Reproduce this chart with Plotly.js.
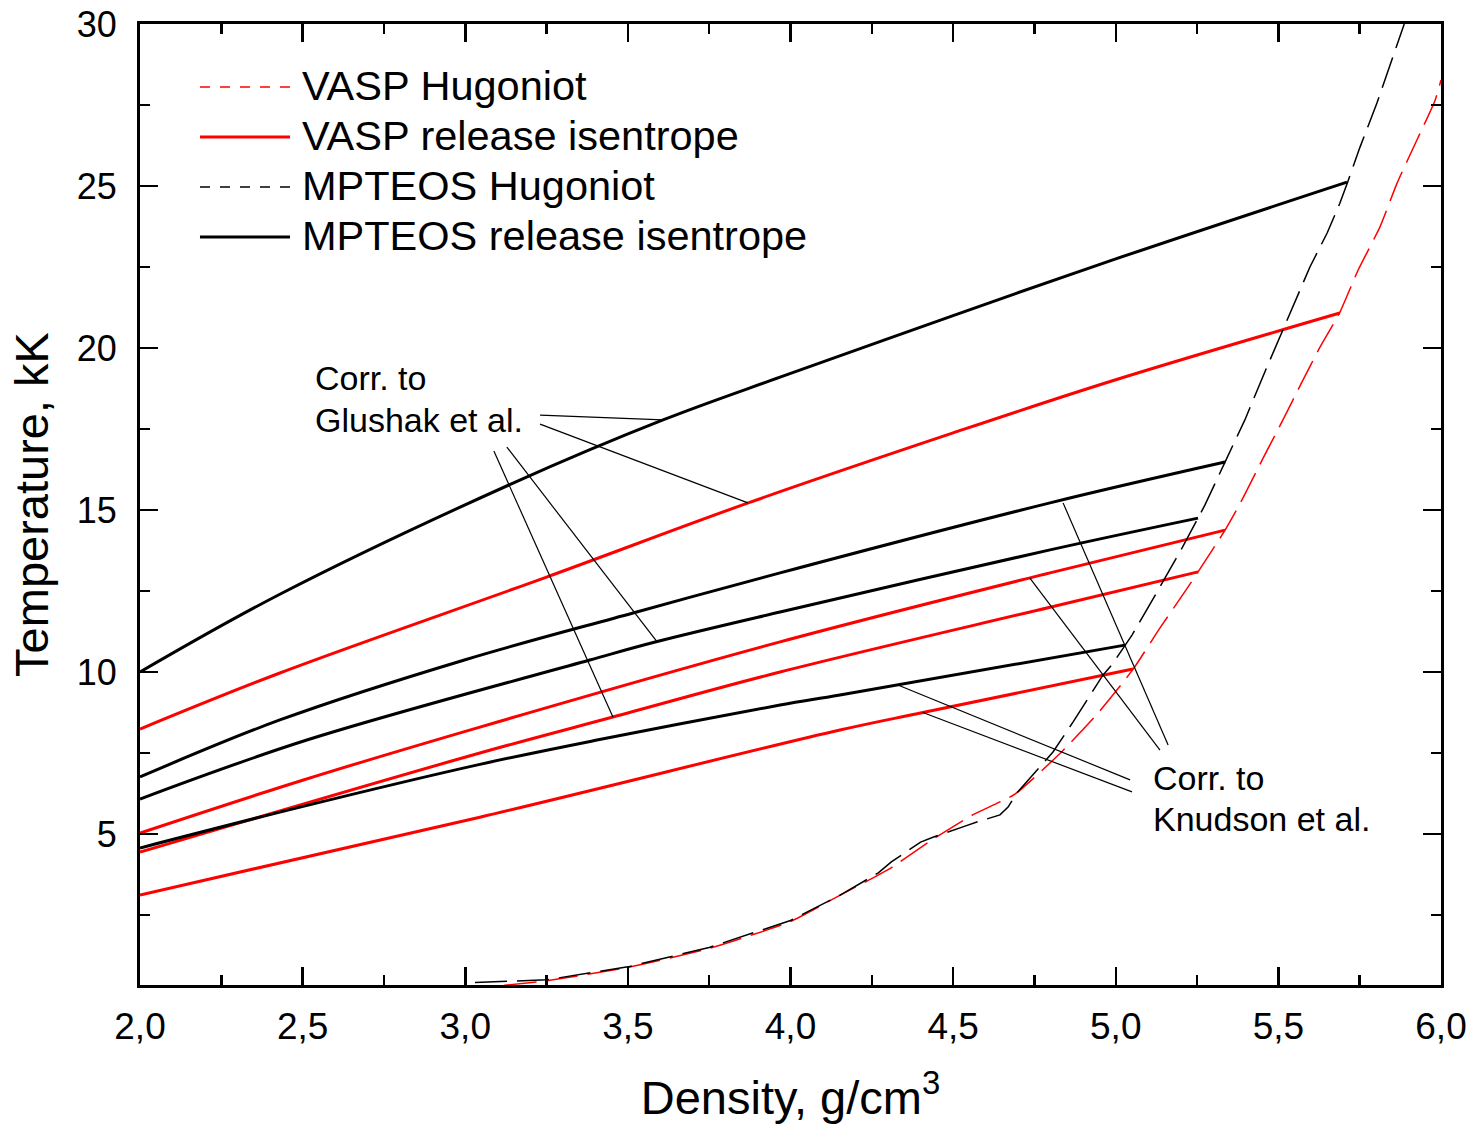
<!DOCTYPE html>
<html>
<head>
<meta charset="utf-8">
<script src="https://cdn.plot.ly/plotly-3.0.1.min.js"></script>
<style>html,body{margin:0;padding:0;background:#fff;}#chart{width:1481px;height:1124px;}</style>
</head>
<body>
<div id="chart"></div>
<script>
// ---- Data (density g/cm3, temperature kK) ----
const vaspHugX = [3.12, 3.25, 3.5, 3.75, 4.0, 4.15, 4.3, 4.44, 4.56, 4.69, 4.83, 4.94, 5.053, 5.136, 5.222, 5.253, 5.336, 5.388, 5.453, 5.514, 5.57, 5.628, 5.689, 5.745, 5.812, 5.865, 5.926, 5.982, 6.0];
const vaspHugY = [0.33, 0.47, 0.88, 1.47, 2.3, 3.1, 3.9, 4.85, 5.59, 6.23, 7.5, 8.67, 10.08, 11.36, 12.62, 13.09, 14.38, 15.31, 16.6, 17.78, 18.9, 20.03, 21.1, 22.4, 23.73, 25.09, 26.42, 27.65, 28.27];

const mpHugX = [3.03, 3.25, 3.5, 3.75, 4.0, 4.15, 4.27, 4.31, 4.40, 4.44, 4.53, 4.573, 4.644, 4.669, 4.696, 4.776, 4.807, 4.869, 4.896, 4.961, 4.988, 5.028, 5.05, 5.127, 5.204, 5.253, 5.274, 5.336, 5.397, 5.46, 5.527, 5.597, 5.65, 5.689, 5.714, 5.751, 5.803, 5.849, 5.887];
const mpHugY = [0.42, 0.5, 0.9, 1.5, 2.33, 3.1, 3.8, 4.14, 4.75, 4.91, 5.22, 5.37, 5.59, 5.83, 6.27, 7.19, 7.53, 8.46, 8.89, 9.91, 10.22, 10.83, 11.14, 12.47, 13.83, 14.75, 15.15, 16.48, 17.78, 19.3, 20.86, 22.5, 23.55, 24.47, 25.15, 26.2, 27.56, 28.89, 30.0];

// VASP release isentropes
const vaspIs1X = [2.0, 2.43, 3.25, 3.87, 4.5, 5.0, 5.689];
const vaspIs1Y = [8.24, 9.97, 12.93, 15.22, 17.38, 19.02, 21.08];
const vaspIs2X = [2.0, 2.5, 3.045, 3.968, 4.798, 5.336];
const vaspIs2Y = [5.03, 6.66, 8.3, 10.93, 13.06, 14.38];
const vaspIs3X = [2.0, 3.045, 3.454, 3.968, 4.798, 5.253];
const vaspIs3Y = [4.44, 7.5, 8.61, 10.0, 12.0, 13.09];
const vaspIs4X = [2.0, 3.045, 4.152, 4.407, 5.053];
const vaspIs4Y = [3.12, 5.52, 8.21, 8.75, 10.09];

// MPTEOS release isentropes
const mpIs1X = [2.0, 2.43, 3.147, 3.608, 3.968, 4.5, 5.0, 5.711];
const mpIs1Y = [10.0, 12.4, 15.83, 17.78, 19.1, 21.0, 22.75, 25.12];
const mpIs2X = [2.0, 2.43, 3.0, 3.516, 3.968, 4.798, 5.336];
const mpIs2Y = [6.76, 8.52, 10.38, 11.82, 13.06, 15.22, 16.48];
const mpIs3X = [2.0, 2.513, 3.383, 3.59, 3.968, 4.798, 5.253];
const mpIs3Y = [6.08, 7.9, 10.37, 10.94, 11.85, 13.77, 14.75];
const mpIs4X = [2.0, 2.48, 3.045, 3.405, 3.968, 4.152, 5.028];
const mpIs4Y = [4.57, 5.8, 7.15, 7.9, 8.98, 9.29, 10.83];

// Annotation pointer lines: [x0, y0, x1, y1] in data units
const glushakPointers = [
  [3.230, 17.93, 3.608, 17.78],
  [3.230, 17.65, 3.869, 15.22],
  [3.088, 16.82, 3.454, 8.61],
  [3.128, 16.94, 3.590, 10.93]
];
const knudsonPointers = [
  [4.330, 9.60, 5.044, 6.67],
  [4.407, 8.75, 5.050, 6.30],
  [4.736, 12.90, 5.136, 7.59],
  [4.838, 15.22, 5.161, 7.75]
];

const legendNames = ['VASP Hugoniot', 'VASP release isentrope', 'MPTEOS Hugoniot', 'MPTEOS release isentrope'];
const glushakLines = ['Corr. to', 'Glushak et al.'];
const glushakLineY = [19.07, 17.78];
const glushakX = 2.532;
const knudsonLines = ['Corr. to', 'Knudson et al.'];
const knudsonLineY = [6.73, 5.46];
const knudsonX = 5.108;

const FONT = 'Liberation Sans, Arial, sans-serif';
const RED = '#ff0000', BLACK = '#000000';

const traces = [];
function iso(x, y, color, name) {
  traces.push({x: x, y: y, type: 'scatter', mode: 'lines', name: name, showlegend: false,
    line: {color: color, width: 3, shape: 'spline', smoothing: 1}});
}
iso(vaspIs1X, vaspIs1Y, RED, legendNames[1]);
iso(vaspIs2X, vaspIs2Y, RED, legendNames[1]);
iso(vaspIs3X, vaspIs3Y, RED, legendNames[1]);
iso(vaspIs4X, vaspIs4Y, RED, legendNames[1]);
iso(mpIs1X, mpIs1Y, BLACK, legendNames[3]);
iso(mpIs2X, mpIs2Y, BLACK, legendNames[3]);
iso(mpIs3X, mpIs3Y, BLACK, legendNames[3]);
iso(mpIs4X, mpIs4Y, BLACK, legendNames[3]);
traces.push({x: vaspHugX, y: vaspHugY, type: 'scatter', mode: 'lines', name: legendNames[0], showlegend: false,
  line: {color: RED, width: 1.5, dash: '32px,10px', shape: 'spline', smoothing: 0.5}});
traces.push({x: mpHugX, y: mpHugY, type: 'scatter', mode: 'lines', name: legendNames[2], showlegend: false,
  line: {color: BLACK, width: 1.5, dash: '32px,10px'}});

glushakPointers.concat(knudsonPointers).forEach(function (p) {
  traces.push({x: [p[0], p[2]], y: [p[1], p[3]], type: 'scatter', mode: 'lines', showlegend: false,
    hoverinfo: 'skip', line: {color: BLACK, width: 1.2}});
});

// custom legend (paper coordinates)
const legRows = [0.9344, 0.8824, 0.8304, 0.7783];
const legStyles = [
  {color: RED, width: 1.5, dash: '10px,10px'},
  {color: RED, width: 3},
  {color: BLACK, width: 1.5, dash: '10px,10px'},
  {color: BLACK, width: 3}
];
const shapes = [];
const annotations = [];
legendNames.forEach(function (n, i) {
  shapes.push({type: 'line', xref: 'paper', yref: 'paper', x0: 0.0461, x1: 0.1153, y0: legRows[i], y1: legRows[i], line: legStyles[i]});
  annotations.push({xref: 'paper', yref: 'paper', x: 0.1230, y: legRows[i] + 0.002, xanchor: 'left', yanchor: 'middle',
    text: n, showarrow: false, font: {family: FONT, size: 41.5, color: '#000'}});
});
glushakLines.forEach(function (t, i) {
  annotations.push({xref: 'x', yref: 'y', x: glushakX, y: glushakLineY[i], xanchor: 'left', yanchor: 'middle',
    text: t, showarrow: false, font: {family: FONT, size: 34, color: '#000'}});
});
knudsonLines.forEach(function (t, i) {
  annotations.push({xref: 'x', yref: 'y', x: knudsonX, y: knudsonLineY[i], xanchor: 'left', yanchor: 'middle',
    text: t, showarrow: false, font: {family: FONT, size: 34, color: '#000'}});
});

const axisCommon = {
  ticks: 'inside', ticklen: 18, tickwidth: 2.5, tickcolor: '#000',
  showline: true, linewidth: 3, linecolor: '#000', mirror: 'ticks',
  showgrid: false, zeroline: false
};

const layout = {
  width: 1481, height: 1124,
  margin: {l: 140, r: 40, t: 24, b: 139},
  paper_bgcolor: '#fff', plot_bgcolor: '#fff',
  separators: ', ',
  showlegend: false,
  font: {family: FONT, color: '#000'},
  xaxis: Object.assign({}, axisCommon, {
    range: [2, 6], tick0: 2, dtick: 0.5, tickformat: '.1f',
    ticklabelstandoff: 7,
    tickfont: {family: FONT, size: 37, color: '#000'},
    minor: {dtick: 0.25, ticks: 'inside', ticklen: 10, tickwidth: 2.5, tickcolor: '#000', showgrid: false},
    title: {text: 'Density, g/cm<sup>3</sup>', font: {family: FONT, size: 47, color: '#000'}, standoff: 36}
  }),
  yaxis: Object.assign({}, axisCommon, {
    range: [0.34, 30], tick0: 0, dtick: 5, tickformat: 'd',
    ticklabelstandoff: 13,
    tickfont: {family: FONT, size: 36, color: '#000'},
    minor: {dtick: 2.5, ticks: 'inside', ticklen: 10, tickwidth: 2.5, tickcolor: '#000', showgrid: false},
    title: {text: 'Temperature, kK', font: {family: FONT, size: 47, color: '#000'}, standoff: 14}
  }),
  shapes: shapes,
  annotations: annotations
};

Plotly.newPlot('chart', traces, layout, {displayModeBar: false, staticPlot: true});
</script>
</body>
</html>
